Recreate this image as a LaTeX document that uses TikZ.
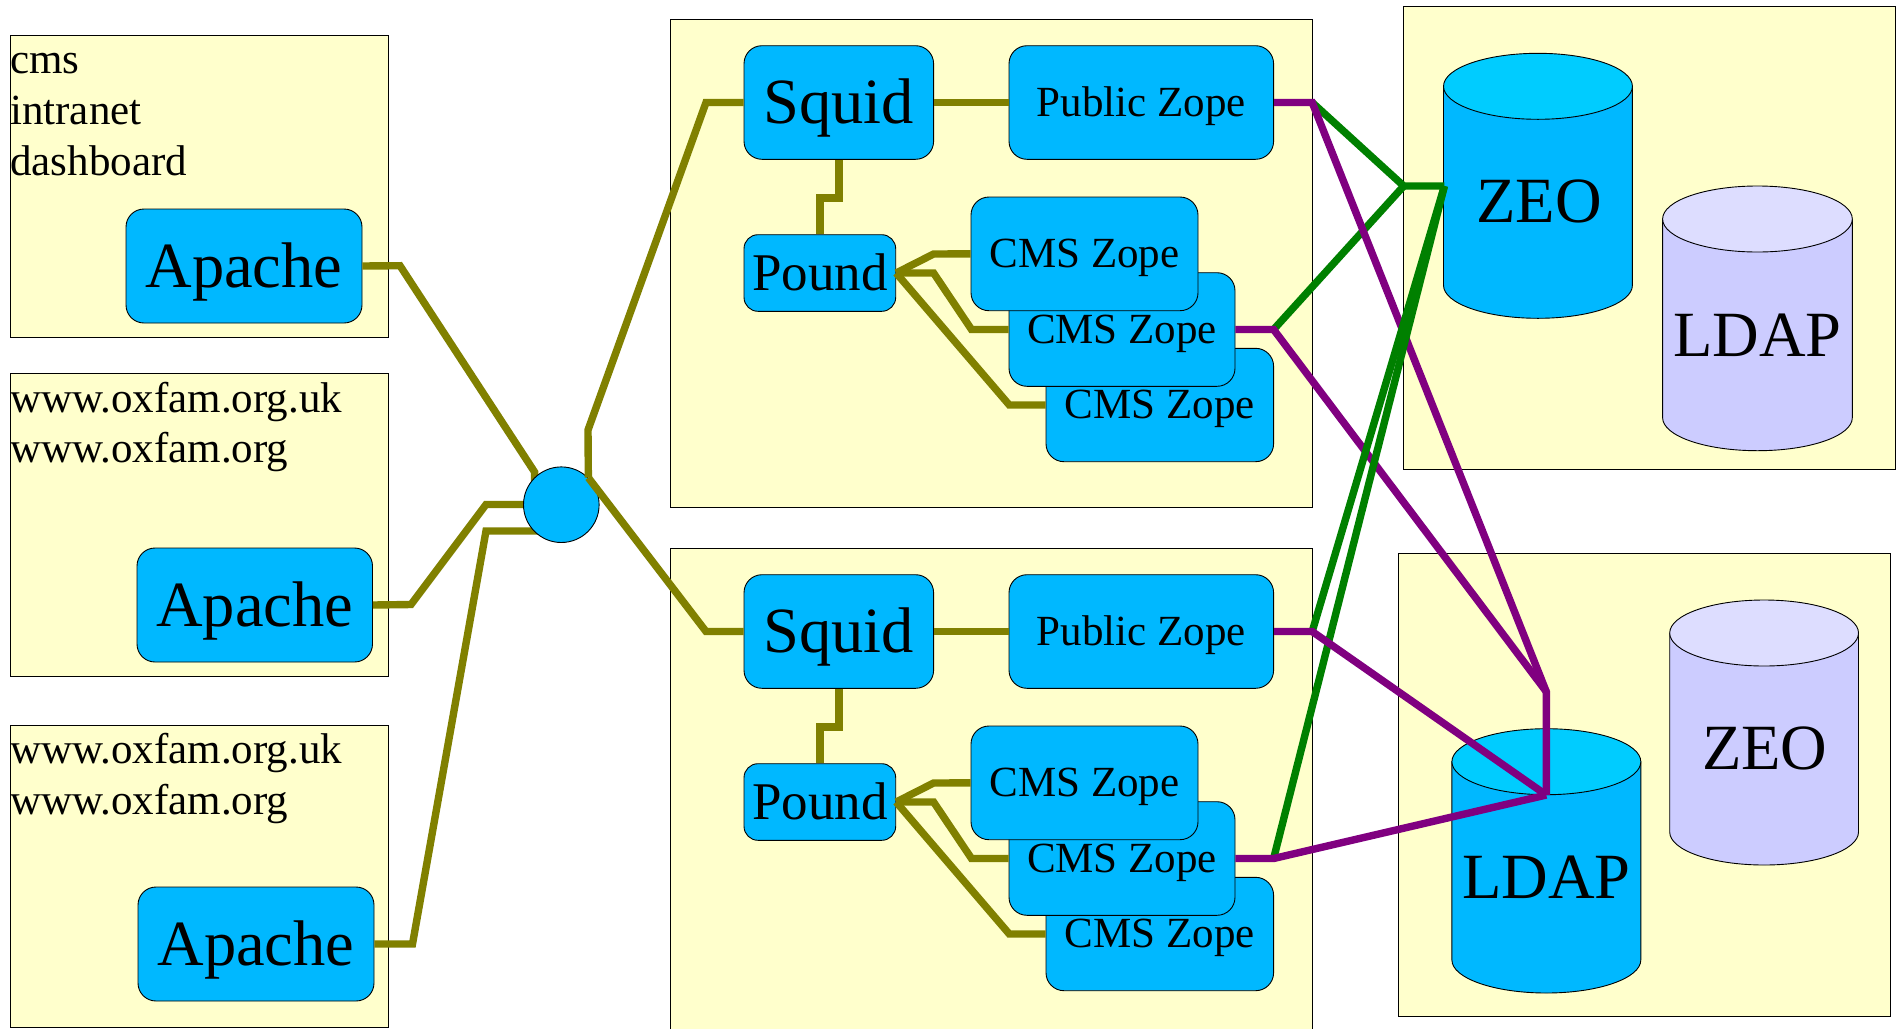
\documentclass[tikz,border=0pt]{standalone}
\usepackage{fontspec}
\setmainfont{Liberation Serif}
\definecolor{paleyellow}{HTML}{FFFFCC}
\definecolor{boxblue}{HTML}{00B8FF}
\definecolor{topblue}{HTML}{00CCFF}
\definecolor{lav}{HTML}{CCCCFF}
\definecolor{toplav}{HTML}{DDDDFF}
\definecolor{linkolive}{HTML}{808000}
\definecolor{linkpurple}{HTML}{800080}
\definecolor{linkgreen}{HTML}{008000}
\tikzset{
  panel/.style={draw=black,line width=0.9pt,fill=paleyellow,inner sep=0pt},
  rbox/.style={draw=black,line width=0.9pt,fill=boxblue,inner sep=0pt,rounded corners=18pt},
  bigtext/.style={font=\fontsize{64.5}{70}\selectfont,text height=42pt,text depth=0pt},
  midtext/.style={font=\fontsize{53}{60}\selectfont,text height=35pt,text depth=0pt,rounded corners=14pt},
  smalltext/.style={font=\fontsize{43}{50}\selectfont,text height=27pt,text depth=0pt},
  sitetext/.style={font=\fontsize{43}{51}\selectfont,anchor=base west,inner sep=0pt},
  cyltext/.style={font=\fontsize{64.5}{70}\selectfont,anchor=base,inner sep=0pt},
  wire/.style={line width=7.4pt,line join=miter},
  oliveline/.style={wire,draw=linkolive},
  purpleline/.style={wire,draw=linkpurple},
  greenline/.style={wire,draw=linkgreen},
  cylbody/.style={draw=black,line width=0.9pt},
}
\newcommand{\bx}[7]{%
  \pgfmathsetmacro{\bxx}{(#2+#4)/2}\pgfmathsetmacro{\bxy}{(#3+#5)/2}%
  \pgfmathsetmacro{\bxw}{#4-(#2)}\pgfmathsetmacro{\bxh}{#5-(#3)}%
  \node[#6,minimum width=\bxw pt,minimum height=\bxh pt] (#1) at (\bxx,\bxy) {#7};}
\newcommand{\cyl}[6]{% x0, x1, top, bottom, fill, topfill
  \pgfmathsetmacro{\cx}{(#1+#2)/2}\pgfmathsetmacro{\crx}{(#2-#1)/2}%
  \pgfmathsetmacro{\cyc}{#3+33}\pgfmathsetmacro{\cye}{#4-33}%
  \filldraw[cylbody,fill=#5] (#1,\cyc) -- (#1,\cye) arc (180:0:\crx pt and 33pt) -- (#2,\cyc) -- cycle;
  \filldraw[cylbody,fill=#6] (\cx,\cyc) ellipse (\crx pt and 33pt);}
\newcommand{\servers}[2]{%
  \def\dy{#2}%
  \bx{squid#1}{744}{45.7+\dy}{933.6}{159.3+\dy}{rbox,bigtext}{Squid}
  \bx{pub#1}{1009}{45.7+\dy}{1273.6}{159.3+\dy}{rbox,smalltext}{Public Zope}
  \bx{pound#1}{744}{234.7+\dy}{895.7}{311.3+\dy}{rbox,midtext}{Pound}
  \bx{cmsc#1}{1046}{348.3+\dy}{1273.6}{461.7+\dy}{rbox,smalltext}{CMS Zope}
  \bx{cmsb#1}{1009}{272.7+\dy}{1235}{386.3+\dy}{rbox,smalltext}{CMS Zope}
  \bx{cmsa#1}{971}{197+\dy}{1198}{310.7+\dy}{rbox,smalltext}{CMS Zope}
  \draw[oliveline] (squid#1.east) -- (pub#1.west);
  \draw[oliveline] (squid#1.south) -- ++(0,38.4) -| (pound#1.north);
  \draw[oliveline] (pound#1.east) -- (933.6,254+\dy) -- (cmsa#1.west);
  \draw[oliveline] (pound#1.east) -- (933.6,273+\dy) -- (971.5,329.5+\dy) -- (cmsb#1.west);
  \draw[oliveline] (pound#1.east) -- (1009.3,405+\dy) -- (cmsc#1.west);
  \coordinate (pubj#1) at (1312.2,102.5+\dy);
  \coordinate (cmsj#1) at (1273.6,329.5+\dy);
}
\begin{document}
\begin{tikzpicture}[x=1pt,y=1pt,yscale=-1]
\useasboundingbox (0,0) rectangle (1898,1029);
% panels
\bx{siteA}{10}{35}{388.5}{337}{panel}{}
\bx{siteB}{10}{373}{388.5}{676}{panel}{}
\bx{siteC}{10}{725}{388.5}{1027}{panel}{}
\bx{farmA}{670}{19}{1312.8}{507}{panel}{}
\fill[paleyellow] (670,548) rectangle (1312.8,1029);
\draw[line width=0.9pt] (670,1029) -- (670,548) -- (1312.8,548) -- (1312.8,1029);
\bx{dbA}{1403.2}{6}{1895.5}{469.3}{panel}{}
\bx{dbB}{1398.6}{553}{1890.4}{1016.3}{panel}{}
% site labels
\node[sitetext] (ta) at (10,73.7) {cms};
\node[sitetext] (tb) at (10,124.5) {intranet};
\node[sitetext] (tc) at (10,175.5) {dashboard};
\node[sitetext] (td) at (10,412) {www.oxfam.org.uk};
\node[sitetext] (te) at (10,462) {www.oxfam.org};
\node[sitetext] (tf) at (10,763) {www.oxfam.org.uk};
\node[sitetext] (tg) at (10,814) {www.oxfam.org};
% apaches
\bx{apA}{126}{209}{362}{323}{rbox,bigtext}{Apache}
\bx{apB}{137}{548}{372.5}{662}{rbox,bigtext}{Apache}
\bx{apC}{138}{887}{374}{1001}{rbox,bigtext}{Apache}
% server groups
\servers{U}{0}
\servers{L}{529}
% cylinders
\cyl{1443.5}{1632.4}{53.3}{318.3}{boxblue}{topblue}
\cyl{1662.6}{1852.3}{186}{450.7}{lav}{toplav}
\cyl{1451.9}{1640.8}{728.7}{993}{boxblue}{topblue}
\cyl{1669.7}{1858.5}{600}{865}{lav}{toplav}
\node[cyltext] (zeoA) at (1539,222.5) {ZEO};
\node[cyltext] (ldapA) at (1757.6,356) {LDAP};
\node[cyltext] (ldapB) at (1546.3,898) {LDAP};
\node[cyltext] (zeoB) at (1764.8,769) {ZEO};
% hub and olive links
\coordinate (hubc) at (561.3,504.7);
\draw[oliveline] (apA.east) -- (400,265.7) -- (534.6,472) -- (534.6,490);
\draw[oliveline] (apB.east) -- (411,604.5) -- (486,504.5) -- (530,504.5);
\draw[oliveline] (apC.east) -- (412.5,944) -- (486,531) -- (540,531);
\node[draw=black,line width=0.9pt,fill=boxblue,circle,inner sep=0pt,minimum size=75.6pt] (hub) at (hubc) {};
\draw[oliveline] (squidU.west) -- (706,102.5) -- (588,430) -- (hub.45);
\draw[oliveline] (hub.45) -- (706,631.5) -- (squidL.west);
% junctions
\coordinate (zeoj) at (1403.7,186);
\coordinate (zeoe) at (1444.4,186);
\coordinate (ldapk) at (1546.3,691.7);
\coordinate (ldapj) at (1546.3,795);
% upper green
\draw[greenline] (pubjU) -- (zeoj) -- (zeoe);
\draw[greenline] (cmsjU) -- (zeoj);
% upper purple
\draw[purpleline] (pubU.east) -- (pubjU) -- (ldapk) -- (ldapj);
\draw[purpleline] (cmsbU.east) -- (cmsjU) -- (ldapk);
% lower green
\draw[greenline] (pubjL) -- (zeoe);
\draw[greenline] (cmsjL) -- (zeoe);
% lower purple
\draw[purpleline] (pubL.east) -- (pubjL) -- (ldapj);
\draw[purpleline] (cmsbL.east) -- (cmsjL) -- (ldapj);
\end{tikzpicture}
\end{document}
